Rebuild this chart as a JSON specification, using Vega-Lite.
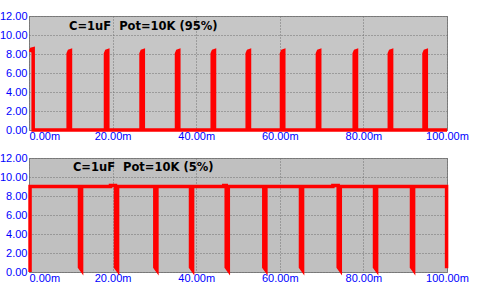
{
  "$schema": "https://vega.github.io/schema/vega-lite/v6.json",
  "background": "white",
  "padding": {"left": -2, "top": 9, "right": 0, "bottom": 0},
  "autosize": {"type": "pad"},
  "spacing": 9,
  "config": {
    "view": {"stroke": "#808080", "strokeWidth": 1},
    "axis": {
      "labelFont": "Liberation Sans",
      "labelFontSize": 11,
      "labelColor": "#0000ff",
      "ticks": false,
      "domain": false,
      "title": null,
      "gridColor": "#707070",
      "gridDash": [1, 2],
      "gridOpacity": 1,
      "labelPadding": 2,
      "labelOverlap": false
    },
    "axisX": {"labelPadding": 0}
  },
  "datasets": {
    "sig": [
      {"p": "top", "t": 0.36, "v": 8.2}, {"p": "top", "t": 0.6, "v": 8.5}, {"p": "top", "t": 1.0, "v": 8.55}, {"p": "top", "t": 1.0, "v": 0},
      {"p": "top", "t": 9.37, "v": 0}, {"p": "top", "t": 9.37, "v": 8.05}, {"p": "top", "t": 9.62, "v": 8.3}, {"p": "top", "t": 9.92, "v": 8.35}, {"p": "top", "t": 9.92, "v": 0},
      {"p": "top", "t": 18.3, "v": 0}, {"p": "top", "t": 18.3, "v": 8.05}, {"p": "top", "t": 18.55, "v": 8.3}, {"p": "top", "t": 18.85, "v": 8.35}, {"p": "top", "t": 18.85, "v": 0},
      {"p": "top", "t": 26.8, "v": 0}, {"p": "top", "t": 26.8, "v": 8.05}, {"p": "top", "t": 27.05, "v": 8.3}, {"p": "top", "t": 27.35, "v": 8.35}, {"p": "top", "t": 27.35, "v": 0},
      {"p": "top", "t": 35.29, "v": 0}, {"p": "top", "t": 35.29, "v": 8.05}, {"p": "top", "t": 35.54, "v": 8.3}, {"p": "top", "t": 35.84, "v": 8.35}, {"p": "top", "t": 35.84, "v": 0},
      {"p": "top", "t": 43.83, "v": 0}, {"p": "top", "t": 43.83, "v": 8.05}, {"p": "top", "t": 44.08, "v": 8.3}, {"p": "top", "t": 44.38, "v": 8.35}, {"p": "top", "t": 44.38, "v": 0},
      {"p": "top", "t": 52.2, "v": 0}, {"p": "top", "t": 52.2, "v": 8.05}, {"p": "top", "t": 52.45, "v": 8.3}, {"p": "top", "t": 52.75, "v": 8.35}, {"p": "top", "t": 52.75, "v": 0},
      {"p": "top", "t": 60.4, "v": 0}, {"p": "top", "t": 60.4, "v": 8.05}, {"p": "top", "t": 60.65, "v": 8.3}, {"p": "top", "t": 60.95, "v": 8.35}, {"p": "top", "t": 60.95, "v": 0},
      {"p": "top", "t": 69.0, "v": 0}, {"p": "top", "t": 69.0, "v": 8.05}, {"p": "top", "t": 69.25, "v": 8.3}, {"p": "top", "t": 69.55, "v": 8.35}, {"p": "top", "t": 69.55, "v": 0},
      {"p": "top", "t": 77.8, "v": 0}, {"p": "top", "t": 77.8, "v": 8.05}, {"p": "top", "t": 78.05, "v": 8.3}, {"p": "top", "t": 78.35, "v": 8.35}, {"p": "top", "t": 78.35, "v": 0},
      {"p": "top", "t": 86.2, "v": 0}, {"p": "top", "t": 86.2, "v": 8.05}, {"p": "top", "t": 86.45, "v": 8.3}, {"p": "top", "t": 86.75, "v": 8.35}, {"p": "top", "t": 86.75, "v": 0},
      {"p": "top", "t": 94.5, "v": 0}, {"p": "top", "t": 94.5, "v": 8.05}, {"p": "top", "t": 94.75, "v": 8.3}, {"p": "top", "t": 95.05, "v": 8.35}, {"p": "top", "t": 95.05, "v": 0},
      {"p": "top", "t": 100, "v": 0},

      {"p": "bot", "t": 0.25, "v": 0}, {"p": "bot", "t": 0.25, "v": 9.0},
      {"p": "bot", "t": 12.08, "v": 9.0}, {"p": "bot", "t": 12.08, "v": 0.5}, {"p": "bot", "t": 12.58, "v": 0.2}, {"p": "bot", "t": 12.58, "v": 9.0},
      {"p": "bot", "t": 19.5, "v": 9.0}, {"p": "bot", "t": 19.5, "v": 9.1}, {"p": "bot", "t": 20.69, "v": 9.1}, {"p": "bot", "t": 20.69, "v": 0.5}, {"p": "bot", "t": 21.19, "v": 0.2}, {"p": "bot", "t": 21.19, "v": 9.0},
      {"p": "bot", "t": 30.1, "v": 9.0}, {"p": "bot", "t": 30.1, "v": 0.5}, {"p": "bot", "t": 30.6, "v": 0.2}, {"p": "bot", "t": 30.6, "v": 9.0},
      {"p": "bot", "t": 38.64, "v": 9.0}, {"p": "bot", "t": 38.64, "v": 0.5}, {"p": "bot", "t": 39.14, "v": 0.2}, {"p": "bot", "t": 39.14, "v": 9.0},
      {"p": "bot", "t": 46.6, "v": 9.0}, {"p": "bot", "t": 46.6, "v": 9.1}, {"p": "bot", "t": 47.18, "v": 9.1}, {"p": "bot", "t": 47.18, "v": 0.5}, {"p": "bot", "t": 47.68, "v": 0.2}, {"p": "bot", "t": 47.68, "v": 9.0},
      {"p": "bot", "t": 56.17, "v": 9.0}, {"p": "bot", "t": 56.17, "v": 0.5}, {"p": "bot", "t": 56.67, "v": 0.2}, {"p": "bot", "t": 56.67, "v": 9.0},
      {"p": "bot", "t": 64.95, "v": 9.0}, {"p": "bot", "t": 64.95, "v": 0.5}, {"p": "bot", "t": 65.45, "v": 0.2}, {"p": "bot", "t": 65.45, "v": 9.0},
      {"p": "bot", "t": 72.7, "v": 9.0}, {"p": "bot", "t": 72.7, "v": 9.1}, {"p": "bot", "t": 73.97, "v": 9.1}, {"p": "bot", "t": 73.97, "v": 0.5}, {"p": "bot", "t": 74.47, "v": 0.2}, {"p": "bot", "t": 74.47, "v": 9.0},
      {"p": "bot", "t": 82.66, "v": 9.0}, {"p": "bot", "t": 82.66, "v": 0.5}, {"p": "bot", "t": 83.16, "v": 0.2}, {"p": "bot", "t": 83.16, "v": 9.0},
      {"p": "bot", "t": 91.51, "v": 9.0}, {"p": "bot", "t": 91.51, "v": 0.5}, {"p": "bot", "t": 92.01, "v": 0.2}, {"p": "bot", "t": 92.01, "v": 9.0},
      {"p": "bot", "t": 99.9, "v": 9.0}, {"p": "bot", "t": 99.9, "v": 0.4}
    ],
    "notes": [
      {"p": "top", "t": 9.57, "v": 10.79, "label": "C=1uF\u00a0 Pot=10K (95%)"},
      {"p": "bot", "t": 10.5, "v": 10.92, "label": "C=1uF\u00a0 Pot=10K (5%)"}
    ]
  },
  "vconcat": [
    {
      "width": 418,
      "height": 114,
      "view": {"fill": "#c6c6c6", "stroke": "#808080"},
      "encoding": {
        "x": {"field": "t", "type": "quantitative", "scale": {"domain": [0, 100], "nice": false},
              "axis": {"values": [0, 20, 40, 60, 80, 100], "labelExpr": "format(datum.value, '.2f') + 'm'",
                       "labelAlign": {"condition": {"test": "datum.value == 0", "value": "left"}, "value": "center"}}},
        "y": {"field": "v", "type": "quantitative", "scale": {"domain": [0, 12], "nice": false},
              "axis": {"values": [0, 2, 4, 6, 8, 10, 12], "format": ".2f"}}
      },
      "layer": [
        {
          "data": {"name": "sig"},
          "transform": [{"filter": "datum.p == 'top'"}],
          "mark": {"type": "line", "color": "#ff0000", "strokeWidth": 3.5, "strokeJoin": "miter"},
          "encoding": {"order": {"value": null}}
        },
        {
          "data": {"name": "notes"},
          "transform": [{"filter": "datum.p == 'top'"}],
          "mark": {"type": "text", "align": "left", "baseline": "middle", "font": "DejaVu Sans", "fontWeight": "bold", "fontSize": 11.5, "color": "#000000"},
          "encoding": {"text": {"field": "label"}}
        }
      ]
    },
    {
      "width": 418,
      "height": 114,
      "view": {"fill": "#c0c0c0", "stroke": "#808080"},
      "encoding": {
        "x": {"field": "t", "type": "quantitative", "scale": {"domain": [0, 100], "nice": false},
              "axis": {"values": [0, 20, 40, 60, 80, 100], "labelExpr": "format(datum.value, '.2f') + 'm'",
                       "labelAlign": {"condition": {"test": "datum.value == 0", "value": "left"}, "value": "center"}}},
        "y": {"field": "v", "type": "quantitative", "scale": {"domain": [0, 12], "nice": false},
              "axis": {"values": [0, 2, 4, 6, 8, 10, 12], "format": ".2f"}}
      },
      "layer": [
        {
          "data": {"name": "sig"},
          "transform": [{"filter": "datum.p == 'bot'"}],
          "mark": {"type": "line", "color": "#ff0000", "strokeWidth": 3.5, "strokeJoin": "miter"},
          "encoding": {"order": {"value": null}}
        },
        {
          "data": {"name": "notes"},
          "transform": [{"filter": "datum.p == 'bot'"}],
          "mark": {"type": "text", "align": "left", "baseline": "middle", "font": "DejaVu Sans", "fontWeight": "bold", "fontSize": 11.5, "color": "#000000"},
          "encoding": {"text": {"field": "label"}}
        }
      ]
    }
  ]
}
